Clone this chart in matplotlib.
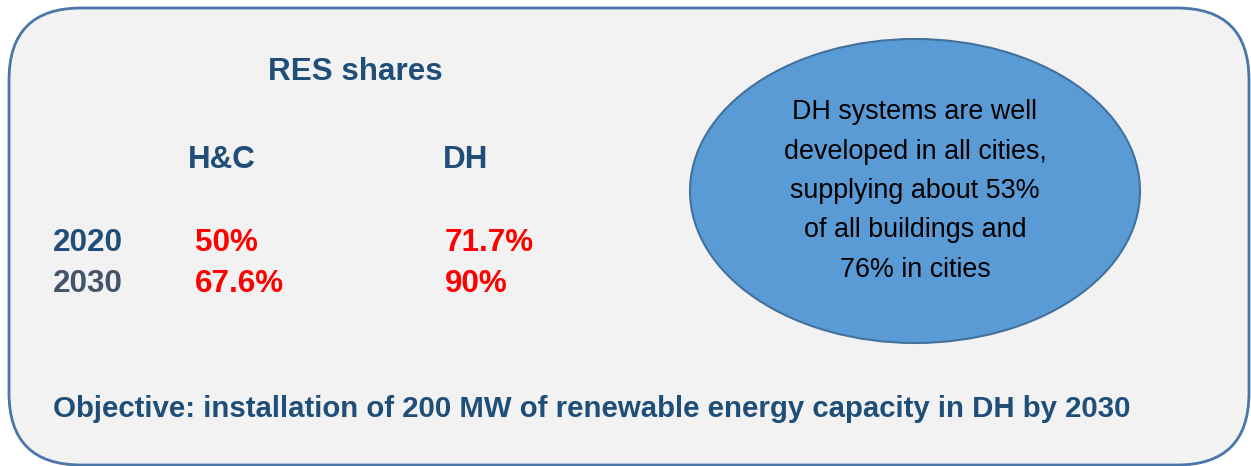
import matplotlib.pyplot as plt
import matplotlib.patches as patches

plt.rcParams['font.family'] = ['Liberation Sans', 'DejaVu Sans']

title = 'RES shares'
columns = ['H&C', 'DH']
years = ['2020', '2030']
hc_shares = ['50%', '67.6%']
dh_shares = ['71.7%', '90%']
bubble_lines = ['DH systems are well', 'developed in all cities,',
                'supplying about 53%', 'of all buildings and', '76% in cities']
objective = 'Objective: installation of 200 MW of renewable energy capacity in DH by 2030'

dark_blue = '#1f4e79'
slate = '#44546a'
red = '#ff0000'

fig = plt.figure(figsize=(12.51, 4.66), dpi=100)
ax = fig.add_axes([0, 0, 1, 1])
ax.set_xlim(0, 1251)
ax.set_ylim(466, 0)
ax.axis('off')

# rounded frame
ax.add_patch(patches.FancyBboxPatch((9, 8), 1240, 457,
             boxstyle='round,pad=0,rounding_size=72',
             facecolor='#f2f2f2', edgecolor='#4a76a8', linewidth=2))

ax.add_patch(patches.Ellipse((915, 191), 450, 304,
             facecolor='#5b9bd5', edgecolor='#41719c', linewidth=1.5))

ax.text(355, 72, title, ha='center', va='center', fontsize=22.6,
        fontweight='bold', color=dark_blue)

col_x = [188, 443]
for x, name in zip(col_x, columns):
    ax.text(x, 160, name, ha='left', va='center', fontsize=22.6,
            fontweight='bold', color=dark_blue)

row_y = [243, 284]
year_colors = [dark_blue, slate]
for y, yr, yc, hc, dh in zip(row_y, years, year_colors, hc_shares, dh_shares):
    ax.text(53, y, yr, ha='left', va='center', fontsize=22.6,
            fontweight='bold', color=yc)
    ax.text(195, y, hc, ha='left', va='center', fontsize=22.6,
            fontweight='bold', color=red)
    ax.text(445, y, dh, ha='left', va='center', fontsize=22.6,
            fontweight='bold', color=red)

ax.text(915, 191, '\n'.join(bubble_lines), ha='center', va='center',
        fontsize=19.4, color='black', linespacing=1.67)

ax.text(53, 409, objective, ha='left', va='center', fontsize=21.2,
        fontweight='bold', color=dark_blue)

fig.savefig('out.png', dpi=100)
